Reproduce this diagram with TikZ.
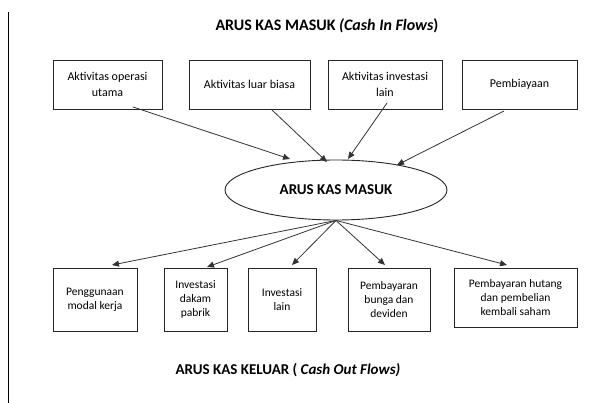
\documentclass[tikz,border=0pt]{standalone}
\usepackage{fontspec}
\setmainfont{Carlito}
\usetikzlibrary{arrows.meta,shapes.geometric}

\tikzset{
	kotak/.style={draw=black!85, line width=0.9pt, align=center, inner sep=1pt, font=\fontsize{12}{15.5}\selectfont},
	kotakb/.style={kotak, font=\fontsize{11.5}{14}\selectfont},
	panah/.style={-{Triangle[length=7pt,width=6pt]}, draw=black!80, line width=0.8pt}
}

\begin{document}
\begin{tikzpicture}[x=1pt,y=-1pt]
		\useasboundingbox (0,0) rectangle (606,403);
		% Garis tepi kiri
		\draw[line width=0.8pt] (8,12) -- (8,403);

		% Judul
		\node (judul) at (327,26) {\fontsize{16}{19}\selectfont\bfseries ARUS KAS MASUK \textit{(Cash In Flows})};
		\node (judulb) at (288,370) {\fontsize{15}{18}\selectfont\bfseries ARUS KAS KELUAR ( \textit{Cash Out Flows)}};

		% Kotak atas
		\node[kotak, minimum width=109pt, minimum height=49pt] (m1) at (107.5,84.5) {Aktivitas operasi\\utama};
		\node[kotak, minimum width=121pt, minimum height=49pt] (m2) at (249.5,84.5) {Aktivitas luar biasa};
		\node[kotak, minimum width=114pt, minimum height=49pt] (m3) at (385,84.5) {Aktivitas investasi\\lain};
		\node[kotak, minimum width=115pt, minimum height=49pt] (m4) at (519.5,84.5) {Pembiayaan};

		% Elips tengah
		\node[draw=black!85, line width=0.9pt, ellipse, minimum width=222pt, minimum height=60pt, inner sep=0pt,
			font=\fontsize{15}{18}\selectfont\bfseries] (aks) at (336,190) {ARUS KAS MASUK};

		% Kotak bawah
		\node[kotakb, minimum width=84pt, minimum height=63pt] (k1) at (95,299.5) {Penggunaan\\modal kerja};
		\node[kotakb, minimum width=63pt, minimum height=63pt] (k2) at (195.5,299.5) {Investasi\\dakam\\pabrik};
		\node[kotakb, minimum width=68pt, minimum height=63pt] (k3) at (282,299.5) {Investasi\\lain};
		\node[kotakb, minimum width=82pt, minimum height=63pt] (k4) at (389,299.5) {Pembayaran\\bunga dan\\deviden};
		\node[kotakb, minimum width=123pt, minimum height=59pt] (k5) at (515.5,297.5) {Pembayaran hutang\\dan pembelian\\kembali saham};

		% Titik untuk panah
		\coordinate (sm1) at (133,107);
		\coordinate (sm2) at (272,110);
		\coordinate (sm3) at (387,103);
		\coordinate (sm4) at (504,111);
		\coordinate (tm1) at (290,159);
		\coordinate (tm2) at (327,162);
		\coordinate (tm3) at (348,159);
		\coordinate (tm4) at (397,165);
		\coordinate (tk1) at (112,265);
		\coordinate (tk2) at (207,267);
		\coordinate (tk3) at (292,265);
		\coordinate (tk4) at (385,265);
		\coordinate (tk5) at (507,265);

		% Panah masuk
		\draw[panah] (sm1) -- (tm1);
		\draw[panah] (sm2) -- (tm2);
		\draw[panah] (sm3) -- (tm3);
		\draw[panah] (sm4) -- (tm4);

		% Panah keluar
		\foreach \t in {tk1,tk2,tk3,tk4,tk5}
			\draw[panah] (aks.south) -- (\t);
	\end{tikzpicture}
\end{document}
